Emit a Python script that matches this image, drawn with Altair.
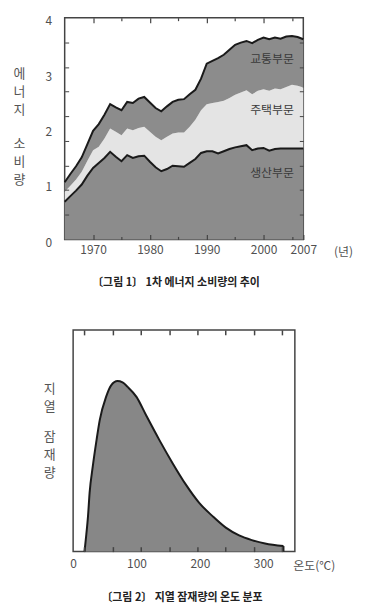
import altair as alt
import pandas as pd

FONT = "Noto Sans CJK KR"

# ---------------- Figure 1 data ----------------
years = list(range(1965, 2008))
sectors = ["생산부문", "주택부문", "교통부문"]
production = [0.68, 0.78, 0.88, 0.99, 1.15, 1.29, 1.38, 1.47, 1.58, 1.49,
              1.41, 1.52, 1.47, 1.50, 1.51, 1.40, 1.30, 1.23, 1.27, 1.33,
              1.32, 1.31, 1.38, 1.45, 1.56, 1.59, 1.59, 1.55, 1.59, 1.63,
              1.66, 1.68, 1.70, 1.61, 1.64, 1.65, 1.60, 1.63, 1.64, 1.64,
              1.64, 1.64, 1.64]
residential = [0.18, 0.19, 0.20, 0.23, 0.27, 0.32, 0.29, 0.35, 0.42, 0.45,
               0.47, 0.48, 0.50, 0.51, 0.52, 0.54, 0.55, 0.56, 0.58, 0.58,
               0.61, 0.62, 0.65, 0.71, 0.77, 0.85, 0.87, 0.93, 0.91, 0.92,
               0.95, 0.97, 0.99, 1.01, 1.04, 1.06, 1.08, 1.09, 1.07, 1.11,
               1.15, 1.13, 1.10]
transport = [0.17, 0.21, 0.24, 0.26, 0.30, 0.35, 0.41, 0.43, 0.44, 0.44,
             0.45, 0.48, 0.49, 0.53, 0.54, 0.53, 0.52, 0.52, 0.55, 0.57,
             0.59, 0.60, 0.59, 0.54, 0.57, 0.73, 0.76, 0.79, 0.83, 0.87,
             0.90, 0.90, 0.89, 0.92, 0.92, 0.93, 0.93, 0.92, 0.91, 0.91,
             0.88, 0.88, 0.87]

label_names = ["교통부문", "주택부문", "생산부문"]
label_years = [2001.5, 2001.5, 2001.5]
label_values = [3.25, 2.34, 1.19]

x_label_values = [1970, 1980, 1990, 2000, 2007]
x_major_ticks = [1970, 1980, 1990, 2000]
x_minor_ticks = [1975, 1985, 1995, 2005]
y_label_values = [0, 1, 2, 3, 4]
y_tick_values = [0.444, 0.889, 1.333, 1.778, 2.222, 2.667, 3.111, 3.556]

# ---------------- Figure 2 data ----------------
temps = [18, 20, 23.5, 26, 31, 37, 42, 52, 60, 70, 78, 86, 100, 115, 136,
         157, 178, 199, 220, 241, 262, 282, 303, 332]
potential = [0, 5.5, 16, 26.5, 38.4, 50.4, 59.3, 69.8, 75, 76.9, 76.3, 74.3,
             69.8, 61.6, 50.4, 39.9, 30.2, 22, 16, 10.8, 7.3, 5.2, 3.7, 2.5]
temp_labels = [0, 100, 200, 300]
temp_ticks = [18, 62.5, 107, 151.5, 196, 240.5, 285, 329.5]

DARK = "#8c8c8c"
LIGHT = "#e4e4e4"
TXT = "#505050"
TICK = "#444444"
YT_SIZE = 13

rows = []
for i, yr in enumerate(years):
    for k, (name, series) in enumerate(zip(sectors, [production, residential, transport])):
        rows.append({"year": yr, "sector": name, "value": series[i], "order": k})
df1 = pd.DataFrame(rows)
lab1 = pd.DataFrame({"name": label_names, "year": label_years, "value": label_values})

xs = alt.Scale(domain=[1965, 2007], nice=False, zero=False)
ys = alt.Scale(domain=[0, 4], nice=False)

W1, H1 = 240, 223


def tick_axis(orient, values, size, width=1.2, **kw):
    return alt.Axis(orient=orient, values=values, offset=-size, tickSize=size,
                    tickColor=TICK, tickWidth=width, labels=False, domain=False,
                    grid=False, zindex=2, **kw)


area1 = alt.Chart(df1).mark_area().encode(
    x=alt.X("year:Q", scale=xs, axis=alt.Axis(
        orient="bottom", values=x_label_values, format="d", offset=-5, tickSize=5,
        tickColor=TICK, tickWidth=1.2, labelPadding=5, labelFontSize=12,
        labelFlush=False, labelColor=TXT, domain=False, grid=False, zindex=2,
        title="(년)", titleX=280, titleY=17, titleAngle=0, titleAlign="center",
        titleBaseline="middle", titleFontSize=12, titleFontWeight="normal",
        titleColor=TXT)),
    y=alt.Y("value:Q", stack="zero", scale=ys, axis=alt.Axis(
        orient="left", values=y_label_values, ticks=False, tickSize=0,
        labelPadding=13, labelOffset=3, labelFontSize=12, labelColor=TXT,
        domain=False, grid=False,
        title=["에", "너", "지"], titleAngle=0,
        titleX=-46, titleY=50, titleAlign="center", titleBaseline="top",
        titleLineHeight=18, titleFontSize=YT_SIZE, titleFontWeight="normal",
        titleColor="#555")),
    color=alt.Color("sector:N", scale=alt.Scale(domain=sectors, range=[DARK, LIGHT, DARK]), legend=None),
    order=alt.Order("order:Q"),
)

total_line = alt.Chart(df1).transform_aggregate(
    total="sum(value)", groupby=["year"]
).mark_line(color="#1a1a1a", strokeWidth=2).encode(
    x=alt.X("year:Q", scale=xs, axis=tick_axis("bottom", x_minor_ticks, 3, title=None)),
    y=alt.Y("total:Q", scale=ys, axis=tick_axis(
        "left", y_tick_values, 4, width=1,
        title=["소", "비", "량"], titleAngle=0, titleX=-50, titleY=121,
        titleAlign="center", titleBaseline="top", titleLineHeight=18,
        titleFontSize=YT_SIZE, titleFontWeight="normal", titleColor="#555")),
)

prod_line = alt.Chart(df1).transform_filter(
    alt.datum.sector == "생산부문"
).mark_line(color="#1a1a1a", strokeWidth=2).encode(
    x=alt.X("year:Q", scale=xs, axis=tick_axis("top", x_major_ticks, 5, title=None)),
    y=alt.Y("value:Q", scale=ys, axis=tick_axis("right", y_tick_values, 4, width=1, title=None)),
)

texts1 = alt.Chart(lab1).mark_text(fontSize=12, color="#3a3a3a").encode(
    x=alt.X("year:Q", scale=xs, axis=tick_axis("top", x_minor_ticks, 3, title=None)),
    y=alt.Y("value:Q", scale=ys, axis=None),
    text="name:N",
)

chart1 = alt.layer(area1, total_line, prod_line, texts1).resolve_axis(
    x="independent", y="independent"
).properties(
    width=W1, height=H1,
    title=alt.TitleParams("〔그림 1〕 1차 에너지 소비량의 추이", orient="bottom",
                          anchor="middle", frame="group", offset=20, dx=-8,
                          fontSize=11, fontWeight="bold", color="#222"),
)

# ---------------- Figure 2 ----------------
df2 = pd.DataFrame({"temp": temps, "pot": potential})
end2 = pd.DataFrame({"temp": [temps[-1]], "pot": [potential[-1]], "base": [0]})
ts = alt.Scale(domain=[0, 350], nice=False, zero=False)
ps = alt.Scale(domain=[0, 100], nice=False)
W2, H2 = 223, 223

area2 = alt.Chart(df2).mark_area(color="#878787", interpolate="monotone").encode(
    x=alt.X("temp:Q", scale=ts, axis=alt.Axis(
        orient="bottom", values=temp_labels, ticks=False, tickSize=0,
        labelPadding=7, labelFontSize=12, labelColor=TXT, labelFlush=False,
        domain=False, grid=False,
        title="온도(℃)", titleX=242, titleY=14, titleAngle=0, titleAlign="center",
        titleBaseline="middle", titleFontSize=12, titleFontWeight="normal",
        titleColor=TXT)),
    y=alt.Y("pot:Q", scale=ps, axis=alt.Axis(
        orient="left", labels=False, ticks=False, tickSize=0, domain=False, grid=False,
        title=["지", "열"], titleAngle=0, titleX=-24,
        titleY=53, titleAlign="center", titleBaseline="top", titleLineHeight=18,
        titleFontSize=YT_SIZE, titleFontWeight="normal", titleColor="#555")),
)

line2 = alt.Chart(df2).mark_line(color="#1a1a1a", strokeWidth=2, interpolate="monotone").encode(
    x=alt.X("temp:Q", scale=ts, axis=tick_axis("bottom", temp_ticks, 5, width=1.5, title=None)),
    y=alt.Y("pot:Q", scale=ps, axis=alt.Axis(
        orient="left", labels=False, ticks=False, tickSize=0, domain=False, grid=False,
        title=["잠", "재", "량"], titleAngle=0, titleX=-24,
        titleY=101, titleAlign="center", titleBaseline="top", titleLineHeight=18,
        titleFontSize=YT_SIZE, titleFontWeight="normal", titleColor="#555")),
)

edge2 = alt.Chart(end2).mark_rule(color="#1a1a1a", strokeWidth=2).encode(
    x=alt.X("temp:Q", scale=ts, axis=tick_axis("top", temp_ticks, 5, width=1.5, title=None)),
    y=alt.Y("base:Q", scale=ps, axis=None),
    y2="pot:Q",
)

chart2 = alt.layer(area2, line2, edge2).resolve_axis(
    x="independent", y="independent"
).properties(
    width=W2, height=H2,
    title=alt.TitleParams("〔그림 2〕 지열 잠재량의 온도 분포", orient="bottom",
                          anchor="middle", frame="group", offset=21, dx=-2,
                          fontSize=11, fontWeight="bold", color="#222"),
)

chart = alt.vconcat(chart1, chart2, spacing=91, bounds="flush", center=True).properties(
    padding={"left": 4, "top": 4, "right": 4, "bottom": 4}
).configure(font=FONT).configure_view(stroke="#444", strokeWidth=1.5)

chart.save("out.html", embed_options={"renderer": "svg", "actions": False})
